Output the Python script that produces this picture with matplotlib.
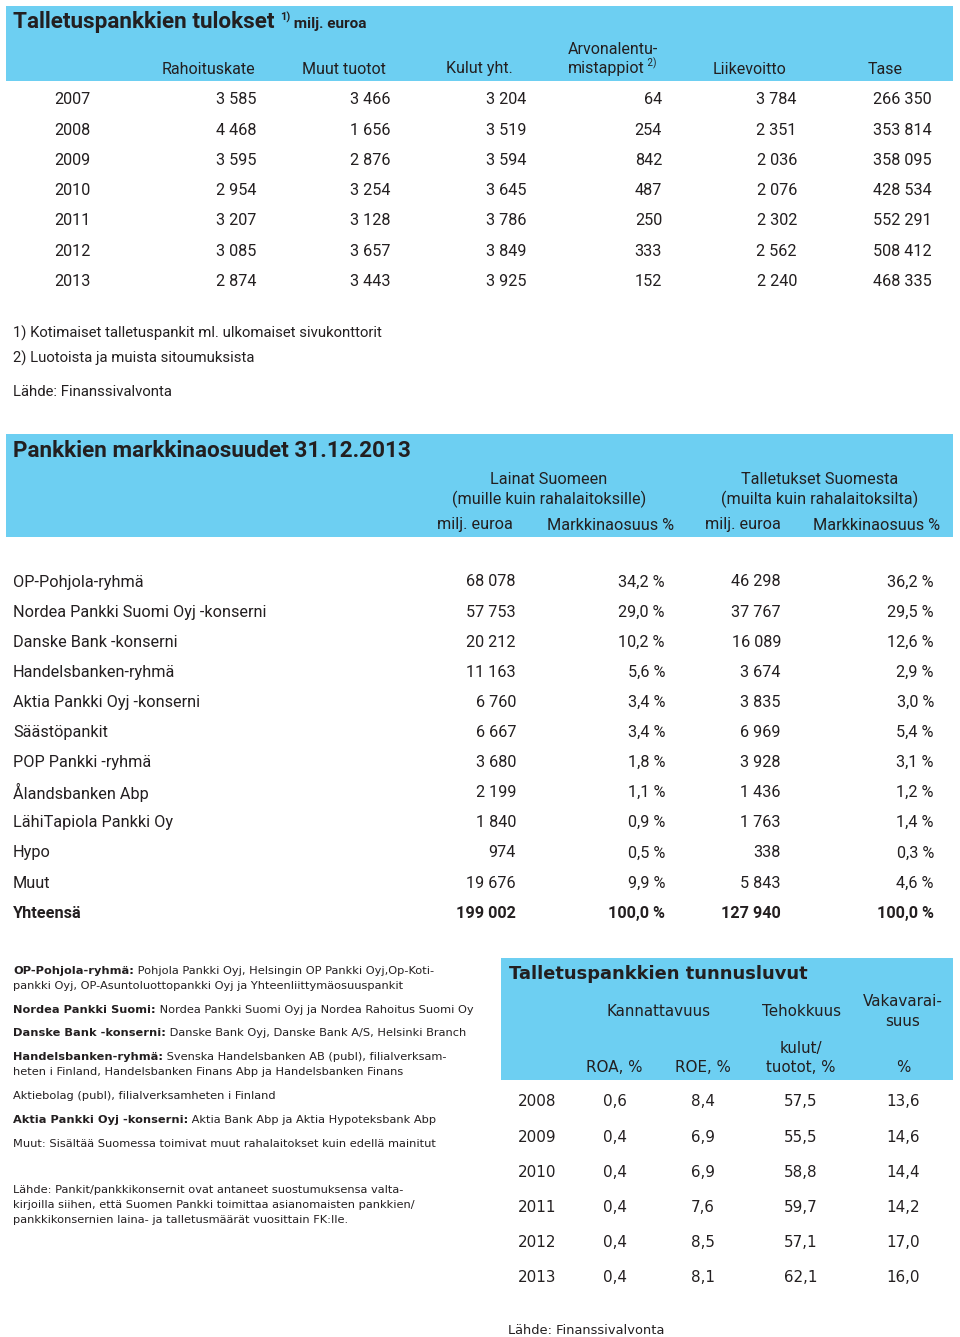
import matplotlib
matplotlib.use("Agg")
import matplotlib.pyplot as plt
from matplotlib.patches import Rectangle

# ---------------- data ----------------
years1 = [2007, 2008, 2009, 2010, 2011, 2012, 2013]
rahoituskate = [3585, 4468, 3595, 2954, 3207, 3085, 2874]
muut_tuotot = [3466, 1656, 2876, 3254, 3128, 3657, 3443]
kulut_yht = [3204, 3519, 3594, 3645, 3786, 3849, 3925]
arvonalentumistappiot = [64, 254, 842, 487, 250, 333, 152]
liikevoitto = [3784, 2351, 2036, 2076, 2302, 2562, 2240]
tase = [266350, 353814, 358095, 428534, 552291, 508412, 468335]
t1_headers = ["Rahoituskate", "Muut tuotot", "Kulut yht.", "Arvonalentu-\nmistappiot", "Liikevoitto", "Tase"]

banks = ["OP-Pohjola-ryhmä", "Nordea Pankki Suomi Oyj -konserni", "Danske Bank -konserni",
         "Handelsbanken-ryhmä", "Aktia Pankki Oyj -konserni", "Säästöpankit", "POP Pankki -ryhmä",
         "Ålandsbanken Abp", "LähiTapiola Pankki Oy", "Hypo", "Muut", "Yhteensä"]
lainat_eur = [68078, 57753, 20212, 11163, 6760, 6667, 3680, 2199, 1840, 974, 19676, 199002]
lainat_pct = [34.2, 29.0, 10.2, 5.6, 3.4, 3.4, 1.8, 1.1, 0.9, 0.5, 9.9, 100.0]
talletukset_eur = [46298, 37767, 16089, 3674, 3835, 6969, 3928, 1436, 1763, 338, 5843, 127940]
talletukset_pct = [36.2, 29.5, 12.6, 2.9, 3.0, 5.4, 3.1, 1.2, 1.4, 0.3, 4.6, 100.0]

years3 = [2008, 2009, 2010, 2011, 2012, 2013]
roa = [0.6, 0.4, 0.4, 0.4, 0.4, 0.4]
roe = [8.4, 6.9, 6.9, 7.6, 8.5, 8.1]
kulut_tuotot = [57.5, 55.5, 58.8, 59.7, 57.1, 62.1]
vakavaraisuus = [13.6, 14.6, 14.4, 14.2, 17.0, 16.0]

notes = [
    ("OP-Pohjola-ryhmä:", " Pohjola Pankki Oyj, Helsingin OP Pankki Oyj,Op-Koti-"),
    ("", "pankki Oyj, OP-Asuntoluottopankki Oyj ja Yhteenliittymäosuuspankit"),
    ("Nordea Pankki Suomi:", " Nordea Pankki Suomi Oyj ja Nordea Rahoitus Suomi Oy"),
    ("Danske Bank -konserni:", " Danske Bank Oyj, Danske Bank A/S, Helsinki Branch"),
    ("Handelsbanken-ryhmä:", " Svenska Handelsbanken AB (publ), filialverksam-"),
    ("", "heten i Finland, Handelsbanken Finans Abp ja Handelsbanken Finans"),
    ("", "Aktiebolag (publ), filialverksamheten i Finland"),
    ("Aktia Pankki Oyj -konserni:", " Aktia Bank Abp ja Aktia Hypoteksbank Abp"),
    ("", "Muut: Sisältää Suomessa toimivat muut rahalaitokset kuin edellä mainitut"),
]
note_y = [970, 985, 1009, 1032, 1056, 1071, 1095, 1119, 1143]
source_lines = ["Lähde: Pankit/pankkikonsernit ovat antaneet suostumuksensa valta-",
                "kirjoilla siihen, että Suomen Pankki toimittaa asianomaisten pankkien/",
                "pankkikonsernien laina- ja talletusmäärät vuosittain FK:lle."]


def fint(v):
    return f"{v:,}".replace(",", " ")


def fpct(v, unit=True):
    s = f"{v:.1f}".replace(".", ",")
    return s + " %" if unit else s


# ---------------- figure ----------------
BLUE = "#6dcff2"
TXT = "#231f20"
F1 = ["Roboto", "DejaVu Sans"]
F2 = ["DejaVu Sans"]

fig = plt.figure(figsize=(9.6, 13.37), dpi=100)
ax = fig.add_axes([0, 0, 1, 1])
ax.set_xlim(0, 960)
ax.set_ylim(1337, 0)
ax.axis("off")

ax.add_patch(Rectangle((6, 6), 947, 75, color=BLUE, lw=0))
ax.add_patch(Rectangle((6, 434), 947, 103, color=BLUE, lw=0))
ax.add_patch(Rectangle((501, 958), 452, 122, color=BLUE, lw=0))


def T(x, y, s, size=12, ha="left", weight="normal", fam=F1, va="center", **kw):
    return ax.text(x, y, s, fontsize=size, ha=ha, va=va, weight=weight, family=fam, color=TXT, **kw)


# ---- table 1 ----
t = T(13, 28, "Talletuspankkien tulokset ", size=16.2, weight="bold", va="baseline")
sup = ax.annotate("1)", xy=(1, 0.45), xycoords=t, fontsize=8, weight="bold", family=F1,
                  color=TXT, va="bottom", ha="left")
ax.annotate(" milj. euroa", xy=(1, 28), xycoords=(sup, "data"), fontsize=11, weight="bold",
            family=F1, color=TXT, va="baseline", ha="left")

hdr_x = [208, 344, 479, 568, 749, 885]
for i, h in enumerate(t1_headers):
    if "\n" in h:
        a, b = h.split("\n")
        T(hdr_x[i], 50, a, ha="left", size=11.5)
        tb = T(hdr_x[i], 69, b, ha="left", size=11.5)
        ax.annotate(" 2)", xy=(1, 0.5), xycoords=tb, fontsize=7, family=F1, color=TXT,
                    va="bottom", ha="left")
    else:
        T(hdr_x[i], 69, h, ha="center", size=11.5)

cols1 = [rahoituskate, muut_tuotot, kulut_yht, arvonalentumistappiot, liikevoitto, tase]
col_r = [256, 391, 526, 662, 797, 932]
for r, yr in enumerate(years1):
    y = 100 + r * 30.2
    T(54, y, str(yr), size=11.7)
    for c, col in enumerate(cols1):
        T(col_r[c], y, fint(col[r]), ha="right", size=11.7)

T(13, 333, "1) Kotimaiset talletuspankit ml. ulkomaiset sivukonttorit", size=10.7)
T(13, 358, "2) Luotoista ja muista sitoumuksista", size=10.7)
T(13, 392, "Lähde: Finanssivalvonta", size=10.7)

# ---- table 2 ----
T(13, 451, "Pankkien markkinaosuudet 31.12.2013", size=16.2, weight="bold")
T(549, 480, "Lainat Suomeen", ha="center", size=11.7)
T(549, 499, "(muille kuin rahalaitoksille)", ha="center", size=11.7)
T(820, 480, "Talletukset Suomesta", ha="center", size=11.7)
T(820, 499, "(muilta kuin rahalaitoksilta)", ha="center", size=11.7)
for x, s in zip([475, 611, 743, 877], ["milj. euroa", "Markkinaosuus %", "milj. euroa", "Markkinaosuus %"]):
    T(x, 525, s, ha="center", size=11.7)

for i, b in enumerate(banks):
    y = 582 + i * 30.1
    w = "bold" if i == len(banks) - 1 else "normal"
    T(13, y, b, size=11.7, weight=w)
    T(516, y, fint(lainat_eur[i]), ha="right", size=11.7, weight=w)
    T(665, y, fpct(lainat_pct[i]), ha="right", size=11.7, weight=w)
    T(781, y, fint(talletukset_eur[i]), ha="right", size=11.7, weight=w)
    T(934, y, fpct(talletukset_pct[i]), ha="right", size=11.7, weight=w)

# ---- notes ----
NS = 8.2
for (bold, rest), y in zip(notes, note_y):
    if bold:
        tb = T(13, y + 6, bold, size=NS, weight="bold", fam=F2, va="bottom")
        ax.annotate(rest, xy=(1, 0), xycoords=tb, fontsize=NS, family=F2, color=TXT,
                    va="bottom", ha="left")
    else:
        T(13, y + 6, rest, size=NS, fam=F2, va="bottom")
for i, s in enumerate(source_lines):
    T(13, 1190 + i * 15, s, size=NS, fam=F2)

# ---- table 3 ----
S3 = 10.9
T(509, 974, "Talletuspankkien tunnusluvut", size=12.9, weight="bold", fam=F2)
T(659, 1012, "Kannattavuus", ha="center", size=S3, fam=F2)
T(801, 1012, "Tehokkuus", ha="center", size=S3, fam=F2)
T(903, 1002, "Vakavarai-", ha="center", size=S3, fam=F2)
T(903, 1021, "suus", ha="center", size=S3, fam=F2)
T(801, 1048, "kulut/", ha="center", size=S3, fam=F2)
T(801, 1067, "tuotot, %", ha="center", size=S3, fam=F2)
T(614, 1067, "ROA, %", ha="center", size=S3, fam=F2)
T(703, 1067, "ROE, %", ha="center", size=S3, fam=F2)
T(903, 1067, "%", ha="center", size=S3, fam=F2)

for i, yr in enumerate(years3):
    y = 1102 + i * 35.2
    T(518, y, str(yr), size=S3, fam=F2)
    T(615, y, fpct(roa[i], False), ha="center", size=S3, fam=F2)
    T(703, y, fpct(roe[i], False), ha="center", size=S3, fam=F2)
    T(801, y, fpct(kulut_tuotot[i], False), ha="center", size=S3, fam=F2)
    T(903, y, fpct(vakavaraisuus[i], False), ha="center", size=S3, fam=F2)

T(508, 1330, "Lähde: Finanssivalvonta", size=9.4, fam=F2)

fig.savefig("out.png", dpi=100)
